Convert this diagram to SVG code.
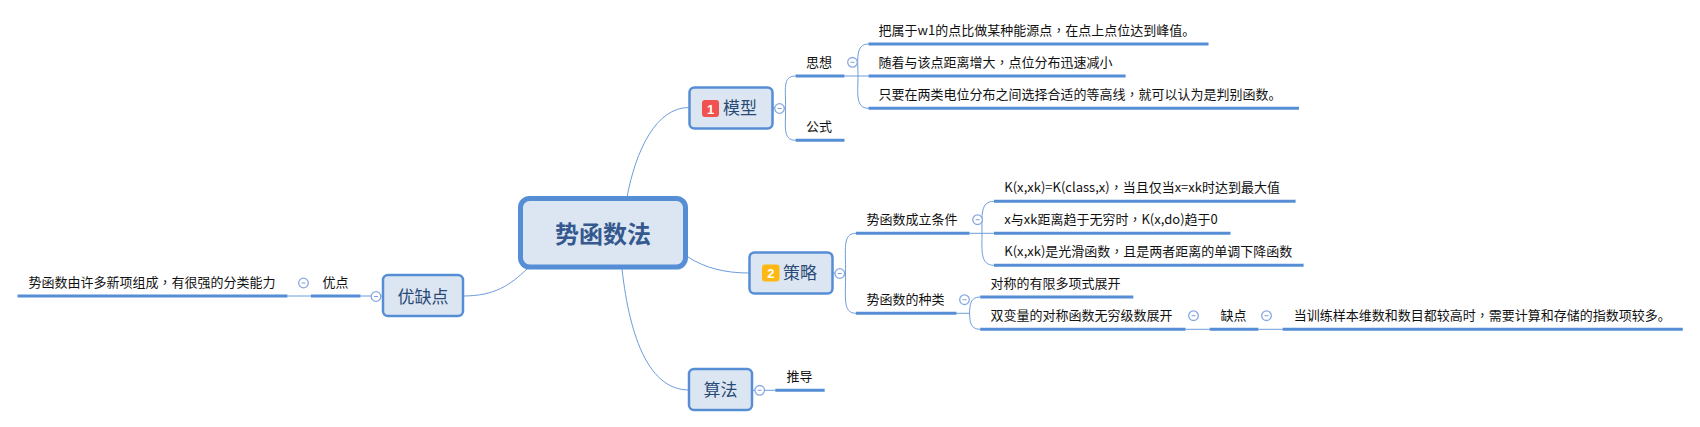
<svg xmlns="http://www.w3.org/2000/svg" width="1700" height="427" viewBox="0 0 1700 427">
<style>
text{font-family:"Noto Sans CJK SC","Microsoft YaHei",sans-serif;}
.t{font-size:13px;fill:#111}
.m{text-anchor:middle}
.q{font-family:"Noto Sans CJK TC",sans-serif}
.b{font-size:17px;fill:#2a4a76;text-anchor:middle}
.box{fill:#dce6f2;stroke:#558ed5;stroke-width:2.5}
.u{stroke:#558ed5;stroke-width:3;fill:none}
.c{stroke:#6d9cdc;stroke-width:1;fill:none}
.k{fill:#fff;stroke:#88a8e0;stroke-width:1.3}
.d{stroke:#7f9fd6;stroke-width:1}
.bt{font-family:"Liberation Sans",sans-serif;font-size:13px;font-weight:bold;fill:#fff;text-anchor:middle}
</style>
<defs>
<g id="col"><circle class="k" r="4.8"/><line class="d" x1="-2" x2="2" y1="0" y2="0"/></g>
</defs>
<g id="connectors">
<path class="c" d="M627 197C636 150 656 107.5 689 107.5"/>
<path class="c" d="M688 257C705 268 725 273 749 273"/>
<path class="c" d="M622 269C630 340 650 390 689 390"/>
<path class="c" d="M527 269C510 285 495 296 463 296"/>
<path class="c" d="M773 107.5H785.5M795.6 76C782 76 786 90 785.5 107.5C786 125 782 140.3 795.6 140.3"/>
<path class="c" d="M844.5 76H868.5M868.5 44C855 44 858 60 858 76C858 92 855 108.3 868.5 108.3"/>
<path class="c" d="M832.5 273H845.5M855.9 233.3C842 233.3 846 250 845.5 273C846 296 842 313.3 855.9 313.3"/>
<path class="c" d="M969.5 233.3H994M994 201.3C980 201.3 982 216 982 233.3C982 250 980 265.3 994 265.3"/>
<path class="c" d="M956.5 313.3H969.5M980.2 297C970 297 970 305 969.5 313.3C970 321 970 329.3 980.2 329.3"/>
<path class="c" d="M1185.5 329.3H1209.6M1258.4 329.3H1282.6"/>
<path class="c" d="M382.5 296H360.5M311 296H287.5"/>
<path class="c" d="M752.3 390.3H775.3"/>
</g>
<g id="root"><rect x="520.5" y="198.5" width="165" height="68.5" rx="9" fill="#dce6f2" stroke="#558ed5" stroke-width="5"/><text x="603" y="242.5" text-anchor="middle" font-size="24" font-weight="700" fill="#35598f">势函数法</text></g>
<g id="n-model"><rect class="box" x="689.5" y="87.5" width="83" height="41" rx="5"/><rect x="702" y="100" width="17" height="17" rx="3" fill="#f0534f"/><text class="bt" x="710.5" y="113.5">1</text><text class="b" x="740" y="114">模型</text><use href="#col" x="779.5" y="108.5"/></g>
<g id="n-idea"><text class="t m" x="819" y="67">思想</text><line class="u" x1="795.6" x2="844.5" y1="76" y2="76"/><use href="#col" x="852.5" y="62.3"/></g>
<g id="n-i1"><text class="t" x="878.5" y="35">把属于w1的点比做某种能源点<tspan class="q">，</tspan>在点上点位达到峰值。</text><line class="u" x1="868.5" x2="1208.5" y1="44" y2="44"/></g>
<g id="n-i2"><text class="t" x="878.5" y="67">随着与该点距离增大<tspan class="q">，</tspan>点位分布迅速减小</text><line class="u" x1="868.5" x2="1125.6" y1="76" y2="76"/></g>
<g id="n-i3"><text class="t" x="878.5" y="99">只要在两类电位分布之间选择合适的等高线<tspan class="q">，</tspan>就可以认为是判别函数。</text><line class="u" x1="868.5" x2="1299" y1="108.3" y2="108.3"/></g>
<g id="n-formula"><text class="t m" x="819" y="131">公式</text><line class="u" x1="795.6" x2="844.5" y1="140.3" y2="140.3"/></g>
<g id="n-strategy"><rect class="box" x="749.5" y="252.5" width="83" height="41" rx="5"/><rect x="762" y="264.5" width="17.5" height="17" rx="3" fill="#fdb813"/><text class="bt" x="770.8" y="278">2</text><text class="b" x="800" y="279">策略</text><use href="#col" x="839.8" y="273.5"/></g>
<g id="n-cond"><text class="t" x="866.6" y="224">势函数成立条件</text><line class="u" x1="855.9" x2="969.5" y1="233.3" y2="233.3"/><use href="#col" x="977.6" y="219.7"/></g>
<g id="n-c1"><text class="t" x="1004.3" y="192">K(x,xk)=K(class,x)<tspan class="q">，</tspan>当且仅当x=xk时达到最大值</text><line class="u" x1="994" x2="1295.6" y1="201.3" y2="201.3"/></g>
<g id="n-c2"><text class="t" x="1004.3" y="224">x与xk距离趋于无穷时<tspan class="q">，</tspan>K(x,do)趋于0</text><line class="u" x1="994" x2="1230.5" y1="233.3" y2="233.3"/></g>
<g id="n-c3"><text class="t" x="1004.3" y="256">K(x,xk)是光滑函数<tspan class="q">，</tspan>且是两者距离的单调下降函数</text><line class="u" x1="994" x2="1303.6" y1="265.3" y2="265.3"/></g>
<g id="n-kind"><text class="t" x="866.6" y="304">势函数的种类</text><line class="u" x1="855.9" x2="956.5" y1="313.3" y2="313.3"/><use href="#col" x="964.5" y="299.7"/></g>
<g id="n-k1"><text class="t" x="990.6" y="288">对称的有限多项式展开</text><line class="u" x1="980.2" x2="1133.3" y1="297" y2="297"/></g>
<g id="n-k2"><text class="t" x="990.6" y="320">双变量的对称函数无穷级数展开</text><line class="u" x1="980.2" x2="1185.5" y1="329.3" y2="329.3"/><use href="#col" x="1193.5" y="315.7"/></g>
<g id="n-weak"><text class="t m" x="1233.5" y="320">缺点</text><line class="u" x1="1209.6" x2="1258.4" y1="329.3" y2="329.3"/><use href="#col" x="1266.5" y="315.7"/></g>
<g id="n-weak1"><text class="t" x="1293.8" y="320">当训练样本维数和数目都较高时<tspan class="q">，</tspan>需要计算和存储的指数项较多。</text><line class="u" x1="1282.6" x2="1682.8" y1="329.3" y2="329.3"/></g>
<g id="n-algo"><rect class="box" x="689" y="369" width="63" height="41" rx="5"/><text class="b" x="720.5" y="396">算法</text><use href="#col" x="759.7" y="390.3"/></g>
<g id="n-derive"><text class="t m" x="799.5" y="381">推导</text><line class="u" x1="775.3" x2="824.7" y1="390.3" y2="390.3"/></g>
<g id="n-pc"><rect class="box" x="383" y="275" width="80" height="41" rx="5"/><text class="b" x="423" y="302.5">优缺点</text><use href="#col" x="376" y="296.5"/></g>
<g id="n-good"><text class="t m" x="335.5" y="287">优点</text><line class="u" x1="311" x2="360.5" y1="296" y2="296"/><use href="#col" x="303.5" y="283"/></g>
<g id="n-good1"><text class="t" x="28.5" y="287">势函数由许多新项组成<tspan class="q">，</tspan>有很强的分类能力</text><line class="u" x1="17.5" x2="287.5" y1="296" y2="296"/></g>
</svg>
